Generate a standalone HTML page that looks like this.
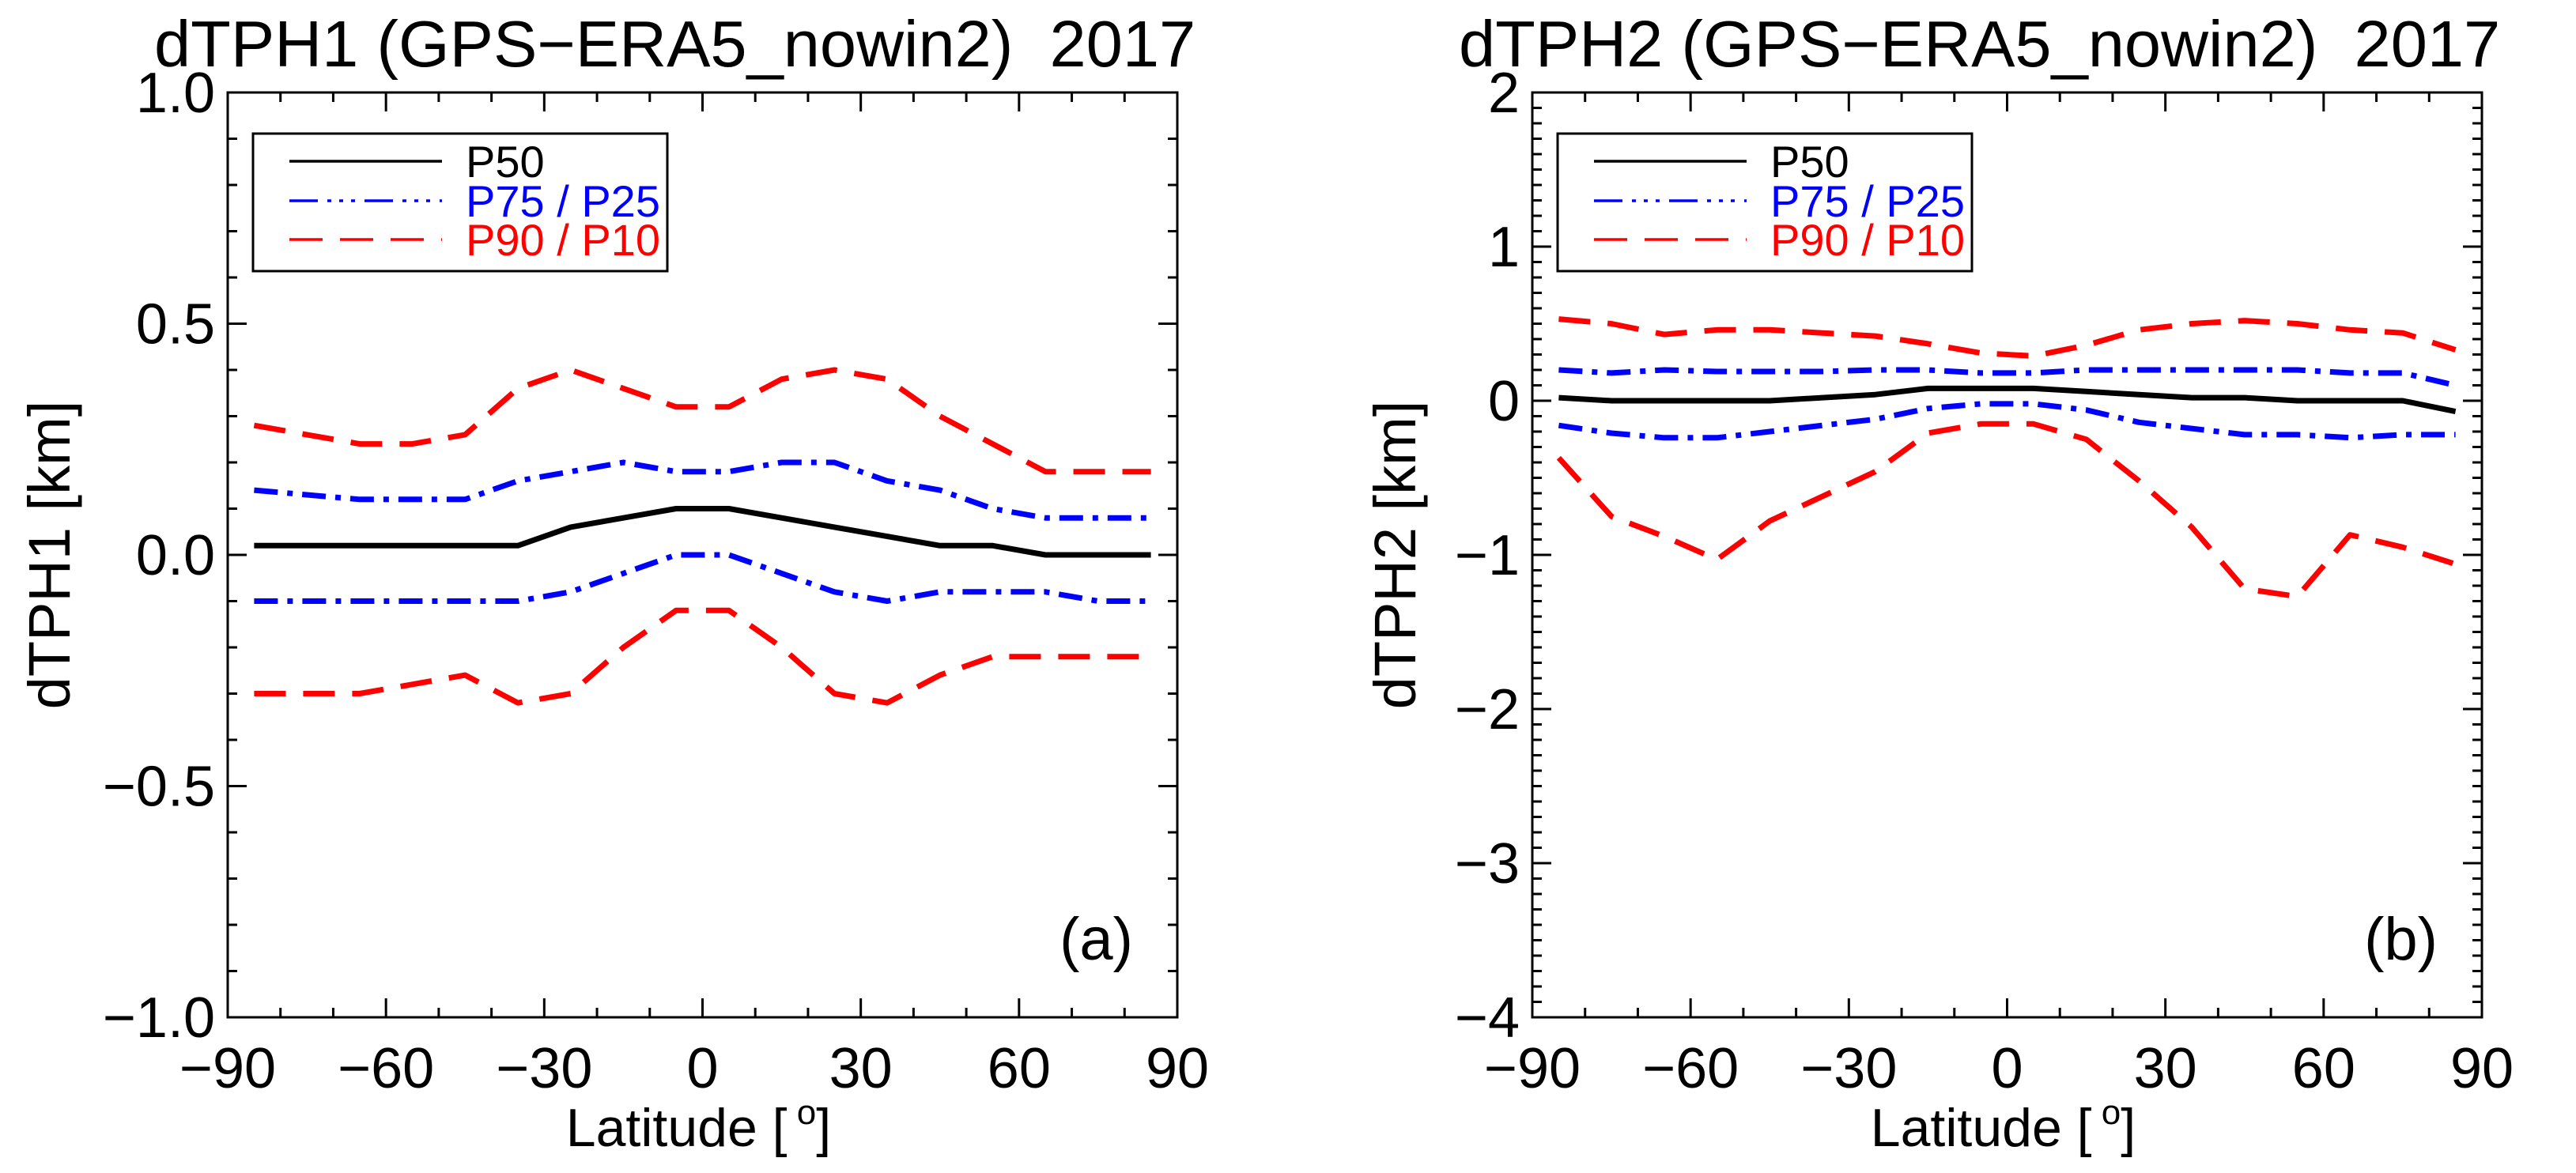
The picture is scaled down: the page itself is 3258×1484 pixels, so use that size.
<!DOCTYPE html>
<html><head><meta charset="utf-8"><style>
html,body{margin:0;padding:0;background:#fff;}
svg{display:block;font-family:"Liberation Sans",Arial,sans-serif;}
text{white-space:pre;}
</style></head><body>
<svg id="fig" width="3258" height="1484" viewBox="0 0 3258 1484" xmlns="http://www.w3.org/2000/svg"></svg>
<script>
const lats = [-85,-75,-65,-55,-45,-35,-25,-15,-5,5,15,25,35,45,55,65,75,85];
const xTicks = [-90,-60,-30,0,30,60,90];
const xTickLabels = ["−90","−60","−30","0","30","60","90"];
// panel a
const aP50 = [0.02,0.02,0.02,0.02,0.02,0.02,0.06,0.08,0.10,0.10,0.08,0.06,0.04,0.02,0.02,0.0,0.0,0.0];
const aP75 = [0.14,0.13,0.12,0.12,0.12,0.16,0.18,0.20,0.18,0.18,0.20,0.20,0.16,0.14,0.10,0.08,0.08,0.08];
const aP25 = [-0.10,-0.10,-0.10,-0.10,-0.10,-0.10,-0.08,-0.04,0.0,0.0,-0.04,-0.08,-0.10,-0.08,-0.08,-0.08,-0.10,-0.10];
const aP90 = [0.28,0.26,0.24,0.24,0.26,0.36,0.40,0.36,0.32,0.32,0.38,0.40,0.38,0.30,0.24,0.18,0.18,0.18];
const aP10 = [-0.30,-0.30,-0.30,-0.28,-0.26,-0.32,-0.30,-0.20,-0.12,-0.12,-0.20,-0.30,-0.32,-0.26,-0.22,-0.22,-0.22,-0.22];
const aYTicks = [-1.0,-0.5,0.0,0.5,1.0];
const aYTickLabels = ["−1.0","−0.5","0.0","0.5","1.0"];
// panel b
const bP50 = [0.02,0.0,0.0,0.0,0.0,0.02,0.04,0.08,0.08,0.08,0.06,0.04,0.02,0.02,0.0,0.0,0.0,-0.07];
const bP75 = [0.20,0.18,0.20,0.19,0.19,0.19,0.20,0.20,0.18,0.18,0.20,0.20,0.20,0.20,0.20,0.18,0.18,0.10];
const bP25 = [-0.16,-0.21,-0.24,-0.24,-0.20,-0.16,-0.12,-0.05,-0.02,-0.02,-0.06,-0.14,-0.18,-0.22,-0.22,-0.24,-0.22,-0.22];
const bP90 = [0.53,0.50,0.43,0.46,0.46,0.44,0.42,0.37,0.31,0.29,0.36,0.46,0.50,0.52,0.50,0.46,0.44,0.33];
const bP10 = [-0.37,-0.75,-0.88,-1.03,-0.78,-0.62,-0.46,-0.21,-0.15,-0.15,-0.25,-0.52,-0.82,-1.22,-1.27,-0.87,-0.95,-1.06];
const bYTicks = [-4,-3,-2,-1,0,1,2];
const bYTickLabels = ["−4","−3","−2","−1","0","1","2"];

const NS="http://www.w3.org/2000/svg";
const svg=document.getElementById('fig');
function mk(tag,attrs,parent){const e=document.createElementNS(NS,tag);for(const k in attrs)e.setAttribute(k,attrs[k]);(parent||svg).appendChild(e);return e;}

function panel(o){
  const g=mk('g',{});
  
  
  const L=o.left,T=117,W=1201,H=1170;
  const xs=v=>L+(v+90)/180*W;
  const ys=v=>T+(o.ymax-v)/(o.ymax-o.ymin)*H;
  const t=mk('text',{x:o.titleX,y:84,'font-size':83,'text-anchor':'start'},g);
  t.textContent=o.title;
  
  
  for(let v=-90;v<=90;v+=10){
    const major=(v%30===0);const len=major?24:12;
    const x=xs(v);
    mk('line',{x1:x,x2:x,y1:T+H,y2:T+H-len,stroke:'#000','stroke-width':3},g);
    mk('line',{x1:x,x2:x,y1:T,y2:T+len,stroke:'#000','stroke-width':3},g);
  }
  const n=Math.round((o.ymax-o.ymin)/o.minor);
  for(let i=0;i<=n;i++){
    const v=o.ymin+i*o.minor;
    const major=o.yTicks.some(t=>Math.abs(t-v)<1e-6);const len=major?24:12;
    const y=ys(v);
    mk('line',{x1:L,x2:L+len,y1:y,y2:y,stroke:'#000','stroke-width':3},g);
    mk('line',{x1:L+W,x2:L+W-len,y1:y,y2:y,stroke:'#000','stroke-width':3},g);
  }
  xTicks.forEach((v,i)=>{const e=mk('text',{x:xs(v),y:1376,'font-size':72,'text-anchor':'middle'},g);e.textContent=xTickLabels[i];
    });
  o.yTicks.forEach((v,i)=>{const e=mk('text',{x:L-16,y:ys(v)+25,'font-size':72,'text-anchor':'end'},g);e.textContent=o.yLabels[i];
    });
  const xt=mk('text',{x:L+W/2-5,y:1450,'font-size':68,'text-anchor':'middle'},g);
  xt.innerHTML='Latitude [<tspan dy="-28" font-size="44"> o</tspan><tspan dy="28">]</tspan>';
  
  const yt=mk('text',{x:0,y:0,'font-size':74,'text-anchor':'middle',transform:`translate(${o.ytx},702) rotate(-90)`},g);
  yt.textContent=o.ytitle;
  
  const series=[
    [o.p90,'#ff0000','40 22','p90-line'],[o.p10,'#ff0000','40 22','p10-line'],
    [o.p75,'#0000ff','30 12 7 12','p75-line'],[o.p25,'#0000ff','30 12 7 12','p25-line'],
    [o.p50,'#000000','none','p50-line']];
  series.forEach(s=>{
    const d=lats.map((la,i)=>(i?'L':'M')+xs(la).toFixed(1)+' '+ys(s[0][i]).toFixed(1)).join(' ');
    const p=mk('path',{d:d,fill:'none',stroke:s[1],'stroke-width':7,'stroke-dasharray':s[2],'stroke-linejoin':'round'},g);
    
    
  });
  mk('rect',{x:L,y:T,width:W,height:H,fill:'none',stroke:'#000','stroke-width':3},g);
  const lg=mk('g',{},g);
  
  
  const lx=L+32;
  mk('rect',{x:lx,y:169,width:524,height:174,fill:'#fff',stroke:'#000','stroke-width':3},lg);
  const ent=[['P50','#000','none',204],['P75 / P25','#0000ff','36 12 5 10 5 10 5 12',254],['P90 / P10','#ff0000','42 22',303]];
  ent.forEach(e=>{
    const le=mk('g',{},lg);
    
    
    mk('line',{x1:lx+46,x2:lx+239,y1:e[3],y2:e[3],stroke:e[1],'stroke-width':3.5,'stroke-dasharray':e[2]},le);
    const tx=mk('text',{x:lx+269,y:e[3]+20,'font-size':56,fill:e[1]},le);tx.textContent=e[0];
  });
  const pl=mk('text',{x:L+W-56,y:1214,'font-size':76,'text-anchor':'end'},g);
  pl.textContent=o.label;
  
}
panel({name:'panel-a',left:288,titleX:195,title:'dTPH1 (GPS−ERA5_nowin2)  2017',ymin:-1,ymax:1,minor:0.1,yTicks:aYTicks,yLabels:aYTickLabels,
  ytitle:'dTPH1 [km]',ytx:88,label:'(a)',p50:aP50,p75:aP75,p25:aP25,p90:aP90,p10:aP10});
panel({name:'panel-b',left:1938,titleX:1845,title:'dTPH2 (GPS−ERA5_nowin2)  2017',ymin:-4,ymax:2,minor:0.1,yTicks:bYTicks,yLabels:bYTickLabels,
  ytitle:'dTPH2 [km]',ytx:1790,label:'(b)',p50:bP50,p75:bP75,p25:bP25,p90:bP90,p10:bP10});
</script>
</body></html>
